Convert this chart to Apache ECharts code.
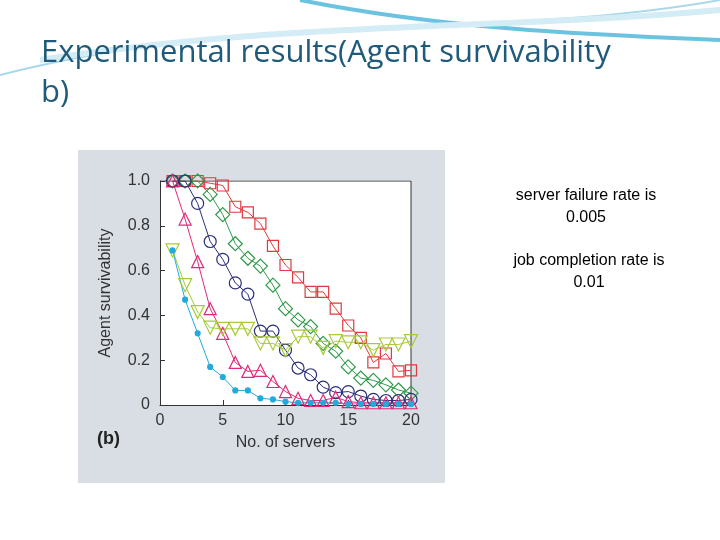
<!DOCTYPE html>
<html>
<head>
<meta charset="utf-8">
<script src="https://cdn.jsdelivr.net/npm/echarts@6/dist/echarts.min.js"></script>
<style>html,body{margin:0;padding:0;background:#fff}#chart{width:720px;height:540px}</style>
</head>
<body>
<div id="chart"></div>
<script>
const servers = [1,2,3,4,5,6,7,8,9,10,11,12,13,14,15,16,17,18,19,20];
const redSquares = [1.0,1.0,1.0,0.99,0.98,0.885,0.86,0.81,0.71,0.625,0.57,0.505,0.505,0.43,0.355,0.30,0.19,0.23,0.15,0.155];
const greenDiamonds = [1.0,1.0,1.0,0.94,0.85,0.72,0.655,0.62,0.535,0.43,0.38,0.35,0.275,0.24,0.17,0.12,0.11,0.09,0.067,0.053];
const blueCircles = [1.0,1.0,0.90,0.73,0.65,0.545,0.495,0.33,0.33,0.245,0.165,0.135,0.08,0.055,0.06,0.04,0.025,0.02,0.02,0.025];
const pinkTriangles = [1.0,0.83,0.64,0.43,0.32,0.19,0.15,0.155,0.105,0.06,0.03,0.02,0.02,0.035,0.015,0.01,0.01,0.01,0.01,0.01];
const limeTriangles = [0.69,0.535,0.415,0.345,0.34,0.34,0.34,0.275,0.275,0.245,0.305,0.305,0.255,0.285,0.28,0.28,0.245,0.27,0.27,0.285];
const cyanDots = [0.69,0.47,0.32,0.17,0.125,0.065,0.065,0.03,0.025,0.015,0.01,0.01,0.01,0.01,0.005,0.005,0.005,0.005,0.005,0.005];

const pair = arr => servers.map((x, i) => [x, arr[i]]);
const mk = (data, color, symbol, size, fill) => ({
  type: 'line', data: pair(data), symbol: symbol, symbolSize: size,
  lineStyle: { color: color, width: 1 },
  itemStyle: { color: fill ? color : 'rgba(0,0,0,0)', borderColor: color, borderWidth: 1.2 },
  z: 3
});
const tri = 'path://M0,-10L8.66,5L-8.66,5Z';
const triDown = 'path://M0,10L8.66,-5L-8.66,-5Z';

const chart = echarts.init(document.getElementById('chart'));
chart.setOption({
  animation: false,
  title: {
    text: 'Experimental results(Agent survivability\nb)',
    left: 36, top: 28,
    textStyle: { color: '#1f5a7a', fontFamily: 'Open Sans', fontSize: 31, fontWeight: 'normal', lineHeight: 40 }
  },
  graphic: [
    // decorative swooshes along the top of the slide
    { type: 'bezierCurve', shape: { x1: 0, y1: 75, x2: 720, y2: 0, cpx1: 250, cpy1: 10, cpx2: 500, cpy2: 40 }, style: { stroke: '#a9d8ea', lineWidth: 2, fill: null }, z: -20 },
    { type: 'bezierCurve', shape: { x1: 300, y1: 0, x2: 720, y2: 40, cpx1: 450, cpy1: 30, cpx2: 600, cpy2: 35 }, style: { stroke: '#6cc3e0', lineWidth: 4, fill: null }, z: -20 },
    { type: 'bezierCurve', shape: { x1: 40, y1: 60, x2: 720, y2: 10, cpx1: 300, cpy1: 20, cpx2: 500, cpy2: 30 }, style: { stroke: '#d3ecf5', lineWidth: 6, fill: null }, z: -20 },
    { type: 'rect', shape: { x: 78, y: 150, width: 367, height: 333 }, style: { fill: '#d9dee5' }, z: -10 },
    { type: 'rect', shape: { x: 160, y: 181, width: 251, height: 224 }, style: { fill: '#ffffff' }, z: -9 },
    { type: 'text', x: 97, y: 430, style: { text: '(b)', font: 'bold 18px Liberation Sans', fill: '#222' } },
    { type: 'text', x: 586, y: 185, style: { text: 'server failure rate is\n0.005', font: '16px Liberation Sans', fill: '#000', align: 'center', lineHeight: 22 } },
    { type: 'text', x: 589, y: 250, style: { text: 'job completion rate is\n0.01', font: '16px Liberation Sans', fill: '#000', align: 'center', lineHeight: 22 } }
  ],
  grid: { left: 160, top: 181, width: 251, height: 224, show: false },
  xAxis: {
    type: 'value', min: 0, max: 20, interval: 5,
    name: 'No. of servers', nameLocation: 'middle', nameGap: 30,
    nameTextStyle: { fontFamily: 'Liberation Sans', fontSize: 16, color: '#333' },
    axisLine: { lineStyle: { color: '#333' } },
    axisTick: { inside: true, length: 5, lineStyle: { color: '#333' } },
    axisLabel: { fontFamily: 'Liberation Sans', fontSize: 16, color: '#333', margin: 8 },
    splitLine: { show: false }
  },
  yAxis: {
    type: 'value', min: 0, max: 1, interval: 0.2,
    name: 'Agent survivability', nameLocation: 'middle', nameGap: 46,
    nameTextStyle: { fontFamily: 'Liberation Sans', fontSize: 16, color: '#333' },
    axisLine: { lineStyle: { color: '#333' } },
    axisTick: { inside: true, length: 5, lineStyle: { color: '#333' } },
    axisLabel: { fontFamily: 'Liberation Sans', fontSize: 16, color: '#333', margin: 10,
      formatter: v => v === 0 ? '0' : v.toFixed(1) },
    splitLine: { show: false }
  },
  series: [
    mk(redSquares, '#e0393f', 'rect', 11, false),
    mk(greenDiamonds, '#2f9a4a', 'diamond', 14, false),
    mk(blueCircles, '#2b2f78', 'circle', 12, false),
    mk(pinkTriangles, '#e0297a', tri, 12, false),
    mk(limeTriangles, '#a8c93a', triDown, 13, false),
    mk(cyanDots, '#25a9dc', 'circle', 5, true),
    { type: 'line', data: [[0, 1], [20, 1]], symbol: 'none', lineStyle: { color: '#333', width: 1 }, silent: true, z: 1 },
    { type: 'line', data: [[20, 0], [20, 1]], symbol: 'none', lineStyle: { color: '#333', width: 1 }, silent: true, z: 1 }
  ]
});
</script>
</body>
</html>
